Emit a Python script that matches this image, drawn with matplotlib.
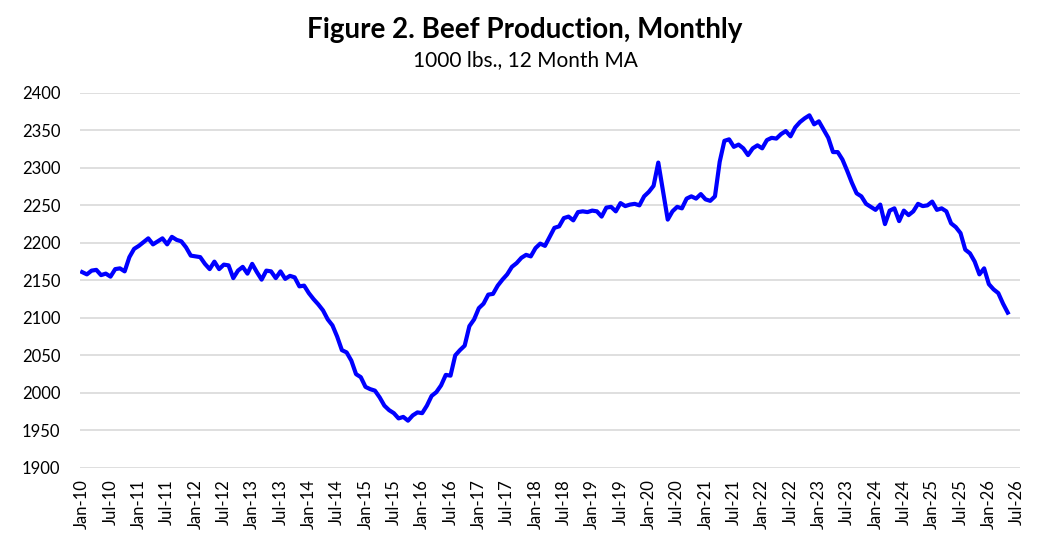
import matplotlib
matplotlib.use("Agg")
import matplotlib.pyplot as plt
import numpy as np

# 12-month moving average of beef production (1000 lbs.), Jan-10 .. May-26
beef_ma = [
    2161, 2158, 2163, 2164, 2157, 2159, 2155, 2165, 2166, 2162, 2181, 2192,  # 2010
    2196, 2201, 2206, 2198, 2202, 2206, 2198, 2208, 2204, 2202, 2194, 2183,  # 2011
    2182, 2181, 2172, 2165, 2175, 2165, 2171, 2170, 2153, 2163, 2168, 2159,  # 2012
    2172, 2161, 2151, 2163, 2162, 2153, 2162, 2152, 2156, 2154, 2142, 2143,  # 2013
    2133, 2125, 2118, 2110, 2098, 2090, 2075, 2057, 2054, 2043, 2025, 2021,  # 2014
    2008, 2005, 2003, 1994, 1983, 1977, 1973, 1966, 1968, 1963, 1970, 1974,  # 2015
    1973, 1983, 1996, 2001, 2010, 2024, 2023, 2050, 2057, 2063, 2089, 2098,  # 2016
    2113, 2119, 2131, 2132, 2143, 2151, 2158, 2168, 2173, 2180, 2184, 2182,  # 2017
    2193, 2199, 2196, 2208, 2220, 2222, 2233, 2235, 2230, 2241, 2242, 2241,  # 2018
    2243, 2242, 2235, 2247, 2248, 2242, 2253, 2249, 2251, 2252, 2250, 2262,  # 2019
    2268, 2276, 2307, 2269, 2231, 2242, 2248, 2246, 2259, 2262, 2259, 2265,  # 2020
    2258, 2256, 2262, 2308, 2336, 2338, 2328, 2331, 2326, 2317, 2326, 2330,  # 2021
    2326, 2337, 2340, 2339, 2345, 2349, 2342, 2354, 2361, 2366, 2370, 2358,  # 2022
    2362, 2351, 2340, 2321, 2321, 2311, 2296, 2280, 2266, 2262, 2252, 2248,  # 2023
    2244, 2251, 2225, 2243, 2246, 2229, 2243, 2237, 2242, 2252, 2249, 2250,  # 2024
    2255, 2244, 2246, 2242, 2226, 2221, 2213, 2191, 2186, 2175, 2158, 2166,  # 2025
    2145, 2138, 2133, 2119, 2107,                                            # 2026
]

tick_labels = [
    "Jan-10", "Jul-10", "Jan-11", "Jul-11", "Jan-12", "Jul-12", "Jan-13", "Jul-13",
    "Jan-14", "Jul-14", "Jan-15", "Jul-15", "Jan-16", "Jul-16", "Jan-17", "Jul-17",
    "Jan-18", "Jul-18", "Jan-19", "Jul-19", "Jan-20", "Jul-20", "Jan-21", "Jul-21",
    "Jan-22", "Jul-22", "Jan-23", "Jul-23", "Jan-24", "Jul-24", "Jan-25", "Jul-25",
    "Jan-26", "Jul-26",
]
y_ticks = [1900, 1950, 2000, 2050, 2100, 2150, 2200, 2250, 2300, 2350, 2400]

plt.rcParams['font.family'] = ['Lato', 'DejaVu Sans']

fig = plt.figure(figsize=(10.5, 5.46), dpi=100)
ax = fig.add_axes([0.076, 0.143, 0.895, 0.687])

months = np.arange(len(beef_ma))
ax.plot(months, beef_ma, color='#0000FF', linewidth=3, solid_joinstyle='round', zorder=3)

ax.set_ylim(1900, 2400)
ax.set_yticks(y_ticks)
ax.set_xlim(-0.5, len(tick_labels) * 6 - 6 + 0.5)
ax.set_xticks(np.arange(len(tick_labels)) * 6)
ax.set_xticklabels(tick_labels, rotation=90)

ax.grid(axis='y', color='#d9d9d9', linewidth=1.2)
ax.set_axisbelow(True)
for s in ax.spines.values():
    s.set_visible(False)
ax.tick_params(axis='both', length=0, labelsize=12, colors='#000000')
ax.tick_params(axis='y', pad=14)
ax.tick_params(axis='x', pad=8)

fig.text(0.5, 0.945, "Figure 2. Beef Production, Monthly", ha='center', va='center',
         fontsize=20, fontweight='bold')
fig.text(0.5, 0.89, "1000 lbs., 12 Month MA", ha='center', va='center', fontsize=15)

fig.savefig("out.png", dpi=100)
